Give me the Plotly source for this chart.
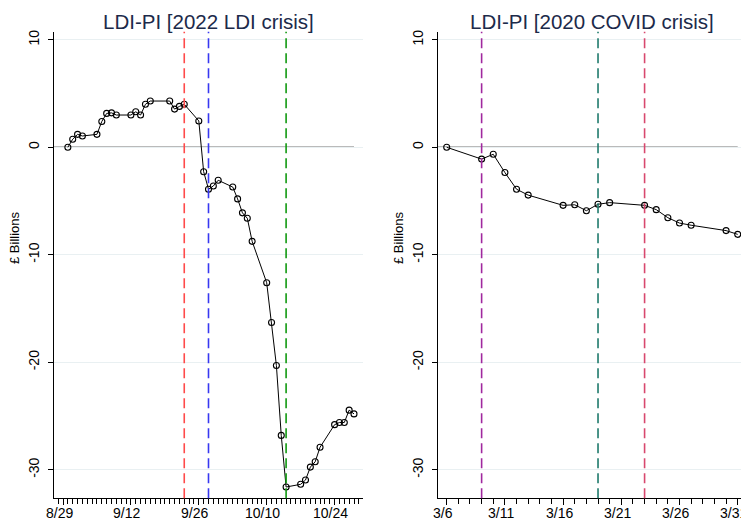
import pandas as pd
import plotly.graph_objects as go

# ---- data ----
dates_2022 = ['2022-08-30', '2022-08-31', '2022-09-01', '2022-09-02', '2022-09-05', '2022-09-06',
              '2022-09-07', '2022-09-08', '2022-09-09', '2022-09-12', '2022-09-13', '2022-09-14',
              '2022-09-15', '2022-09-16', '2022-09-20', '2022-09-21', '2022-09-22', '2022-09-23',
              '2022-09-26', '2022-09-27', '2022-09-28', '2022-09-29', '2022-09-30', '2022-10-03',
              '2022-10-04', '2022-10-05', '2022-10-06', '2022-10-07', '2022-10-10', '2022-10-11',
              '2022-10-12', '2022-10-13', '2022-10-14', '2022-10-17', '2022-10-18', '2022-10-19',
              '2022-10-20', '2022-10-21', '2022-10-24', '2022-10-25', '2022-10-26', '2022-10-27',
              '2022-10-28']
ldi_2022 = [0.0, 0.75, 1.2, 1.05, 1.2, 2.4,
            3.15, 3.2, 3.0, 3.0, 3.3, 3.0,
            4.0, 4.3, 4.3, 3.55, 3.8, 4.0,
            2.45, -2.27, -3.9, -3.6, -3.07, -3.7,
            -4.8, -6.1, -6.6, -8.75, -12.6, -16.3,
            -20.3, -26.8, -31.6, -31.35, -30.95, -29.75,
            -29.25, -27.9, -25.8, -25.6, -25.6, -24.45,
            -24.8]

dates_2020 = ['2020-03-06', '2020-03-09', '2020-03-10', '2020-03-11', '2020-03-12', '2020-03-13',
              '2020-03-16', '2020-03-17', '2020-03-18', '2020-03-19', '2020-03-20', '2020-03-23',
              '2020-03-24', '2020-03-25', '2020-03-26', '2020-03-27', '2020-03-30', '2020-03-31']
ldi_2020 = [0.0, -1.1, -0.65, -2.35, -3.9, -4.45,
            -5.4, -5.35, -5.9, -5.3, -5.15, -5.4,
            -5.8, -6.55, -7.05, -7.25, -7.75, -8.1]

events_2022 = ['2022-09-23', '2022-09-28', '2022-10-14']
event_colors_2022 = ['#ff4a4a', '#3838f0', '#119a11']
events_2020 = ['2020-03-09', '2020-03-19', '2020-03-23']
event_colors_2020 = ['#a0289e', '#1f7a6c', '#d8486e']

ticks_2022 = ['2022-08-29', '2022-09-12', '2022-09-26', '2022-10-10', '2022-10-24']
ticklabels_2022 = ['8/29', '9/12', '9/26', '10/10', '10/24']
ticks_2020 = ['2020-03-06', '2020-03-11', '2020-03-16', '2020-03-21', '2020-03-26', '2020-03-31']
ticklabels_2020 = ['3/6', '3/11', '3/16', '3/21', '3/26', '3/31']

y_ticks = [-30, -20, -10, 0, 10]
y_range = [-32.65, 10.75]

titles = ['LDI-PI [2022 LDI crisis]', 'LDI-PI [2020 COVID crisis]']
y_title = '£ Billions'

FONT = 'Liberation Sans, Arial, sans-serif'
TITLE_COLOR = '#1c2a4a'

# page is 749x523; the html body has an 8px margin, so the figure is 8px smaller
OFF = 8
W, H = 749 - OFF, 523 - OFF


def px_x(page_x):
    return (page_x - OFF) / W


def px_y(page_y):
    return 1 - (page_y - OFF) / H


x_doms = [[px_x(54), px_x(363)], [px_x(437.7), px_x(746.7)]]
y_dom = [px_y(498.3), px_y(31.7)]
ytitle_x = [px_x(14), px_x(398)]


def padded_range(lo, hi, frac=9 / 291):
    lo, hi = pd.Timestamp(lo), pd.Timestamp(hi)
    pad = (hi - lo) * frac
    return [lo - pad, hi + pad]


fig = go.Figure()

panels = [
    (dates_2022, ldi_2022, events_2022, event_colors_2022, ticks_2022, ticklabels_2022,
     padded_range(ticks_2022[0], dates_2022[-1])),
    (dates_2020, ldi_2020, events_2020, event_colors_2020, ticks_2020, ticklabels_2020,
     padded_range(ticks_2020[0], dates_2020[-1])),
]

for i, (dts, vals, evs, ecols, tv, tt, xr) in enumerate(panels):
    n = '' if i == 0 else str(i + 1)
    xa, ya = 'x' + n, 'y' + n
    # zero line
    fig.add_shape(type='line', xref=xa, yref=ya, x0=xr[0], x1=dts[-1], y0=0, y1=0,
                  line=dict(color='#777777', width=1.3), layer='below')
    # event lines
    for d, c in zip(evs, ecols):
        fig.add_shape(type='line', xref=xa, yref=ya + ' domain', x0=d, x1=d, y0=0, y1=1,
                      line=dict(color=c, width=1.6, dash='10px,5px'))
    fig.add_trace(go.Scatter(
        x=dts, y=vals, mode='lines+markers', xaxis=xa, yaxis=ya,
        line=dict(color='black', width=1),
        marker=dict(symbol='circle-open', size=6, color='black', line=dict(width=1.1)),
        showlegend=False, hoverinfo='x+y'))

    fig.layout['xaxis' + n] = dict(
        domain=x_doms[i], anchor=ya, type='date', range=xr, automargin=False,
        tickvals=tv, showticklabels=False,
        ticks='outside', ticklen=6, tickcolor='black',
        minor=dict(dtick=86400000, tick0=tv[0], ticks='outside', ticklen=5,
                   tickcolor='black', showgrid=False),
        showline=True, linecolor='black', linewidth=1, showgrid=False, zeroline=False)
    # x tick labels (drawn as annotations so the last one stays inside the page)
    for d, lab in zip(tv, tt):
        fig.add_annotation(text=lab, xref=xa, yref=ya + ' domain', x=d, y=0,
                           xanchor='center', yanchor='top', xshift=-4, yshift=-5,
                           showarrow=False, font=dict(family=FONT, size=14, color='black'))
    fig.layout['yaxis' + n] = dict(
        domain=y_dom, anchor=xa, range=y_range, tickvals=y_ticks, automargin=False,
        ticktext=[str(v) for v in y_ticks], tickangle=-90, ticklabelstandoff=3,
        ticklabeloverflow='allow',
        ticks='outside', ticklen=5, tickcolor='black',
        showline=True, linecolor='black', linewidth=1,
        showgrid=True, gridcolor='#e9f0f2', gridwidth=1, zeroline=False,
        tickfont=dict(family=FONT, size=14, color='black'))

    fig.add_annotation(text=y_title, xref='paper', yref='paper', textangle=-90,
                       x=ytitle_x[i], y=px_y(238), xanchor='center', yanchor='middle',
                       showarrow=False, font=dict(family=FONT, size=13, color='black'))

    fig.add_annotation(text=titles[i], xref='paper', yref='paper',
                       x=(x_doms[i][0] + x_doms[i][1]) / 2, y=1,
                       xanchor='center', yanchor='top', showarrow=False,
                       font=dict(family=FONT, size=20.5, color=TITLE_COLOR))

fig.update_layout(width=W, height=H, margin=dict(l=0, r=0, t=0, b=0),
                  paper_bgcolor='white', plot_bgcolor='white',
                  font=dict(family=FONT))

fig.write_html('out.html')
